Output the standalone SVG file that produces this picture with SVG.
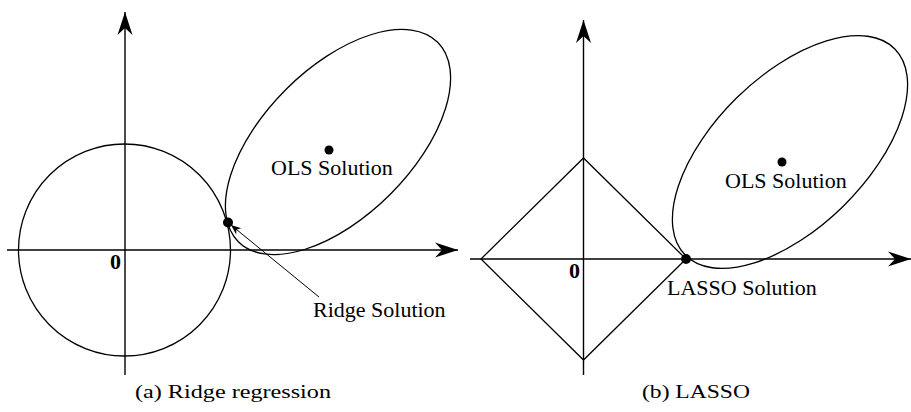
<svg xmlns="http://www.w3.org/2000/svg" width="911" height="412" viewBox="0 0 911 412">
<style>
.ax{stroke:#000;stroke-width:1.4;fill:none}
.sh{stroke:#000;stroke-width:1.3;fill:none}
.lbl{font-family:"Liberation Serif","Times New Roman",serif;font-size:22px;fill:#000}
.zero{font-family:"Liberation Serif","Times New Roman",serif;font-size:22px;font-weight:bold;fill:#000}
.cap{font-family:"Liberation Serif","DejaVu Serif",serif;font-size:19px;fill:#000}
.dot{fill:#000}
</style>
<defs>
<marker id="stealth" viewBox="-24 -8 26 16" refX="0" refY="0" markerWidth="26" markerHeight="16" markerUnits="userSpaceOnUse" orient="auto">
<path d="M0,0 L-23,-7.5 L-16,0 L-23,7.5 Z" fill="#000"/>
</marker>
<marker id="small" viewBox="-12 -5 13 10" refX="0" refY="0" markerWidth="13" markerHeight="10" markerUnits="userSpaceOnUse" orient="auto">
<path d="M0,0 L-10,-4 L-7,0 L-10,4 Z" fill="#000"/>
</marker>
</defs>
<g id="connectors">
<line id="ridge-yaxis" class="ax" x1="125" y1="375" x2="125" y2="12" marker-end="url(#stealth)"/>
<line id="ridge-xaxis" class="ax" x1="7" y1="250" x2="458" y2="250" marker-end="url(#stealth)"/>
<line id="lasso-yaxis" class="ax" x1="583.5" y1="375" x2="583.5" y2="20" marker-end="url(#stealth)"/>
<line id="lasso-xaxis" class="ax" x1="470" y1="259" x2="911" y2="259" marker-end="url(#stealth)"/>
<line id="ridge-pointer" stroke="#000" stroke-width="1" x1="319" y1="297" x2="231" y2="225" marker-end="url(#small)"/>
</g>
<g id="ridge-constraint">
<circle class="sh" cx="124.5" cy="250" r="106"/>
</g>
<g id="ridge-ols-contour">
<ellipse class="sh" cx="0" cy="0" rx="141" ry="74" transform="translate(338 142) rotate(-45)"/>
<circle class="dot" cx="329" cy="150" r="4.5"/>
<text class="lbl" x="271" y="175">OLS Solution</text>
</g>
<g id="ridge-solution">
<circle class="dot" cx="228" cy="222.5" r="5"/>
<text class="lbl" x="313" y="317">Ridge Solution</text>
</g>
<g id="ridge-origin">
<text class="zero" x="110" y="269">0</text>
</g>
<g id="ridge-caption">
<text class="cap" x="135" y="398" textLength="196" lengthAdjust="spacingAndGlyphs">(a)  Ridge regression</text>
</g>
<g id="lasso-constraint">
<polygon class="sh" points="481,259 583.5,158 686,259 583.5,360"/>
</g>
<g id="lasso-ols-contour">
<ellipse class="sh" cx="0" cy="0" rx="147" ry="76" transform="translate(790 152) rotate(-44.5)"/>
<circle class="dot" cx="782" cy="162" r="4.5"/>
<text class="lbl" x="725" y="188">OLS Solution</text>
</g>
<g id="lasso-solution">
<circle class="dot" cx="686" cy="259" r="5"/>
<text class="lbl" x="667" y="295">LASSO Solution</text>
</g>
<g id="lasso-origin">
<text class="zero" x="569" y="278">0</text>
</g>
<g id="lasso-caption">
<text class="cap" x="642" y="398" textLength="108" lengthAdjust="spacingAndGlyphs">(b)  LASSO</text>
</g>
</svg>
